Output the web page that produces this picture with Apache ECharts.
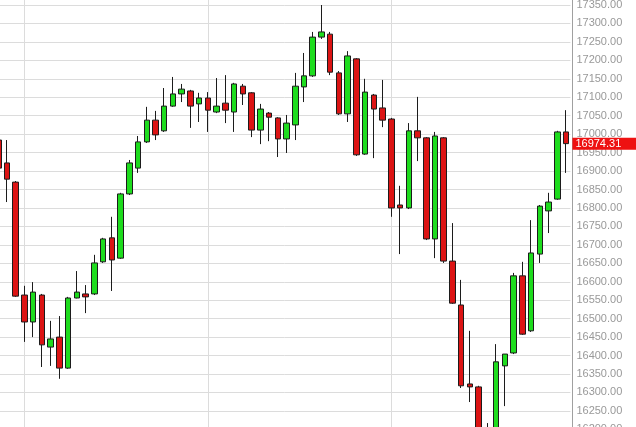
<!DOCTYPE html>
<html>
<head>
<meta charset="utf-8">
<script src="https://cdn.jsdelivr.net/npm/echarts@6/dist/echarts.min.js"></script>
<style>
html,body{margin:0;padding:0;background:#fff;}
#chart{width:636px;height:427px;}
</style>
</head>
<body>
<div id="chart"></div>
<script>
// Candle index labels (no dates are shown on the reference)
const categories = ['1','2','3','4','5','6','7','8','9','10','11','12','13','14','15','16','17','18','19','20','21','22','23','24','25','26','27','28','29','30','31','32','33','34','35','36','37','38','39','40','41','42','43','44','45','46','47','48','49','50','51','52','53','54','55','56','57','58','59','60','61','62','63','64','65','66'];

const opens = [16984,16922,16870,16564,16491,16564,16423,16450,16366,16556,
  16567,16567,16654,16719,16664,16838,16908,16979,17038,17009,
  17076,17109,17117,17082,17098,17060,17084,17060,17130,17112,
  17011,17057,17044,16987,17025,17128,17158,17263,17271,17166,
  17055,17204,16946,17106,17071,17041,16808,16800,17009,16990,
  16716,16990,16656,16537,16323,16315,16144,16171,16372,16407,
  16616,16467,16675,16792,16824,17006];

const closes = [16908,16878,16561,16491,16572,16429,16445,16366,16556,16572,
  16559,16651,16716,16659,16838,16922,16979,17038,16998,17076,
  17109,17122,17076,17098,17065,17076,17065,17136,17109,17011,
  17068,17046,16987,17030,17130,17158,17263,17277,17168,17055,
  17212,16944,17114,17068,17038,16800,16800,17009,16990,16716,
  16995,16656,16542,16318,16315,16171,16198,16383,16404,16616,
  16458,16678,16805,16816,17006,16974.31];

const lows = [16903,16816,16559,16437,16450,16369,16372,16337,16364,16555,
  16515,16564,16651,16575,16662,16835,16895,16976,16984,17006,
  17074,17087,17017,17033,17006,17057,17030,17006,17079,16992,
  16973,16981,16938,16949,16984,17087,17155,17258,17160,17052,
  17033,16941,16944,16935,17019,16776,16675,16797,16927,16713,
  16664,16651,16540,16312,16274,16158,16130,16158,16263,16404,
  16456,16464,16651,16732,16822,16895];

const highs = [16990,16984,16873,16589,16599,16567,16494,16507,16559,16629,
  16591,16673,16719,16776,16841,16930,16995,17074,17063,17125,
  17155,17136,17120,17112,17114,17152,17160,17139,17136,17114,
  17082,17060,17046,17052,17166,17220,17277,17350,17277,17171,
  17225,17206,17150,17109,17147,17044,16860,17030,17101,16992,
  17006,16992,16759,16605,16467,16318,16217,16431,16404,16624,
  16654,16767,16808,16841,17009,17065];

const lastPrice = 16974.31;
const yMin = 16200, yMax = 17400, yStep = 50;
const verticalGridAt = [3, 24, 45];

const candleData = opens.map((o, i) => [o, closes[i], lows[i], highs[i]]);

const chart = echarts.init(document.getElementById('chart'), null, {renderer: 'canvas'});
chart.setOption({
  animation: false,
  backgroundColor: '#ffffff',
  grid: {left: -6.1, right: 65.6, top: -13.45, bottom: -2.35, containLabel: false, outerBoundsMode: 'none'},
  xAxis: {
    type: 'category',
    data: categories,
    boundaryGap: true,
    axisLine: {show: false},
    axisTick: {show: false},
    axisLabel: {show: false},
    splitLine: {
      show: true,
      alignWithLabel: true,
      interval: function (index) { return verticalGridAt.indexOf(index) >= 0; },
      lineStyle: {color: '#dcdcdc', width: 1}
    }
  },
  yAxis: {
    type: 'value',
    position: 'right',
    offset: 2,
    min: yMin,
    max: yMax,
    interval: yStep,
    scale: true,
    axisLine: {show: true, lineStyle: {color: '#a0a0a0', width: 1}},
    axisTick: {show: false},
    axisLabel: {
      margin: 4,
      color: '#999999',
      fontFamily: 'Liberation Sans, Arial, sans-serif',
      fontSize: 11,
      padding: [3, 0, 0, 0],
      formatter: function (v) { return v.toFixed(2); }
    },
    splitLine: {show: true, lineStyle: {color: '#dcdcdc', width: 1}}
  },
  series: [{
    type: 'candlestick',
    data: candleData,
    barWidth: 6,
    clip: false,
    itemStyle: {
      color: '#1edc1e',
      color0: '#dc1414',
      borderColor: '#1c1c1c',
      borderColor0: '#1c1c1c',
      borderWidth: 1
    },
    markLine: {
      silent: true,
      symbol: ['none', 'none'],
      animation: false,
      z: 10,
      lineStyle: {color: 'rgba(255,255,255,0)', width: 1, type: 'solid'},
      label: {
        show: true,
        position: 'end',
        distance: 2,
        formatter: String(lastPrice.toFixed(2)),
        color: '#ffffff',
        backgroundColor: '#ee1111',
        fontFamily: 'Liberation Sans, Arial, sans-serif',
        fontSize: 11,
        lineHeight: 11,
        padding: [1, 24, 0, 3]
      },
      data: [{yAxis: lastPrice}]
    }
  }]
});
</script>
</body>
</html>
